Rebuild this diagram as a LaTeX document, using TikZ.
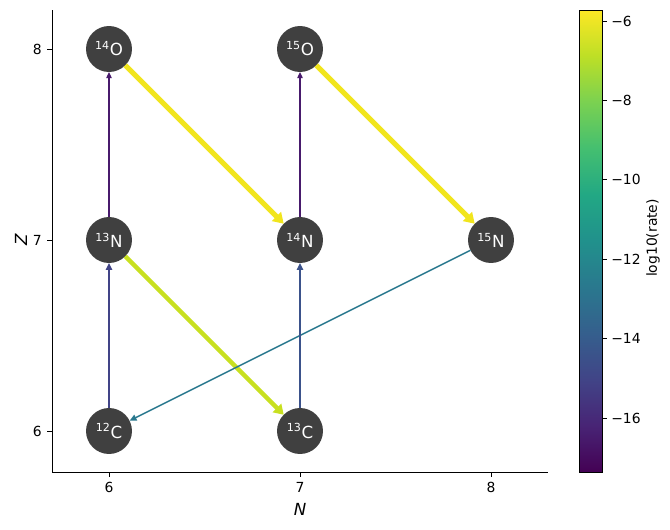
\documentclass[tikz,border=0pt]{standalone}
\usepackage{fontspec}
\setmainfont{DejaVu Sans}
\usetikzlibrary{arrows.meta}
\definecolor{nodegray}{RGB}{64,64,64}
\definecolor{vyel}{RGB}{241,229,29}
\definecolor{vygr}{RGB}{200,224,32}
\definecolor{vteal}{RGB}{41,120,142}
\definecolor{vblue}{RGB}{59,82,139}
\definecolor{vind}{RGB}{65,68,135}
\definecolor{vpur}{RGB}{72,26,108}
\definecolor{v0}{RGB}{68,1,84}
\definecolor{v1}{RGB}{72,36,117}
\definecolor{v2}{RGB}{65,68,135}
\definecolor{v3}{RGB}{53,95,141}
\definecolor{v4}{RGB}{42,120,142}
\definecolor{v5}{RGB}{33,145,140}
\definecolor{v6}{RGB}{34,168,132}
\definecolor{v7}{RGB}{68,191,112}
\definecolor{v8}{RGB}{122,209,81}
\definecolor{v9}{RGB}{189,223,38}
\definecolor{v10}{RGB}{253,231,37}
\pgfdeclareverticalshading{viridis}{100bp}{color(0bp)=(v0); color(25bp)=(v0); color(30bp)=(v1); color(35bp)=(v2); color(40bp)=(v3); color(45bp)=(v4); color(50bp)=(v5); color(55bp)=(v6); color(60bp)=(v7); color(65bp)=(v8); color(70bp)=(v9); color(75bp)=(v10); color(100bp)=(v10)}
\tikzset{
  nuc/.style={circle, fill=nodegray, minimum size=33.1pt, inner sep=0pt, outer sep=0pt, text=white, font=\fontsize{12}{14}\selectfont},
  tick/.style={line width=0.6pt},
  ticklab/.style={font=\fontsize{10}{12}\selectfont, inner sep=0pt},
  thickarr/.style={line width=3.6pt, -{Triangle[length=7.5pt,width=9pt]}},
  midarr/.style={line width=3.2pt, -{Triangle[length=7pt,width=8.5pt]}},
  thinarr/.style={line width=1.1pt, -{Triangle[length=5pt,width=4.5pt]}},
  hairarr/.style={line width=0.9pt, -{Triangle[length=4.5pt,width=4pt]}}
}
\begin{document}
\begin{tikzpicture}[x=0.72pt,y=-0.72pt]
\useasboundingbox (0,0) rectangle (670,529);
% axes
\draw[line width=0.6pt] (52,10) -- (52,472) -- (548,472);
\foreach \x/\l in {109/6,300/7,491/8} {
  \draw[tick] (\x,472) -- (\x,477);
  \node[ticklab, anchor=north] at (\x,482) {\l};
}
\foreach \y/\l in {49/8,240/7,431/6} {
  \draw[tick] (52,\y) -- (47,\y);
  \node[ticklab, anchor=east] at (42,\y) {\l};
}
\node[font=\fontsize{12}{14}\selectfont\itshape] (xl) at (300,509) {N};
\node[font=\fontsize{12}{14}\selectfont\itshape, rotate=90] (yl) at (21,240) {Z};
% colorbar
\shade[shading=viridis] (579,10) rectangle (602,472);
\draw[line width=0.6pt] (579,10) rectangle (602,472);
\foreach \v in {6,8,10,12,14,16} {
  \pgfmathsetmacro{\yy}{21+(\v-6)*39.7}
  \draw[tick] (602,\yy) -- (607,\yy);
  \node[ticklab, anchor=west] at (611,\yy) {−\v};
}
\node[font=\fontsize{10}{12}\selectfont, rotate=90] (cbl) at (653,238) {log10(rate)};
% nodes
\node[nuc] (O14) at (109,49) {\textsuperscript{14}O};
\node[nuc] (O15) at (300,49) {\textsuperscript{15}O};
\node[nuc] (N13) at (109,240) {\textsuperscript{13}N};
\node[nuc] (N14) at (300,240) {\textsuperscript{14}N};
\node[nuc] (N15) at (491,240) {\textsuperscript{15}N};
\node[nuc] (C12) at (109,431) {\textsuperscript{12}C};
\node[nuc] (C13) at (300,431) {\textsuperscript{13}C};
% edges
\draw[thickarr, vyel] (O14) -- (N14);
\draw[thickarr, vyel] (O15) -- (N15);
\draw[midarr, vygr] (N13) -- (C13);
\draw[thinarr, vteal] (N15) -- (C12);
\draw[thinarr, vind] (C12) -- (N13);
\draw[thinarr, vblue] (C13) -- (N14);
\draw[hairarr, vpur] (N13) -- (O14);
\draw[hairarr, vpur] (N14) -- (O15);
\end{tikzpicture}
\end{document}
